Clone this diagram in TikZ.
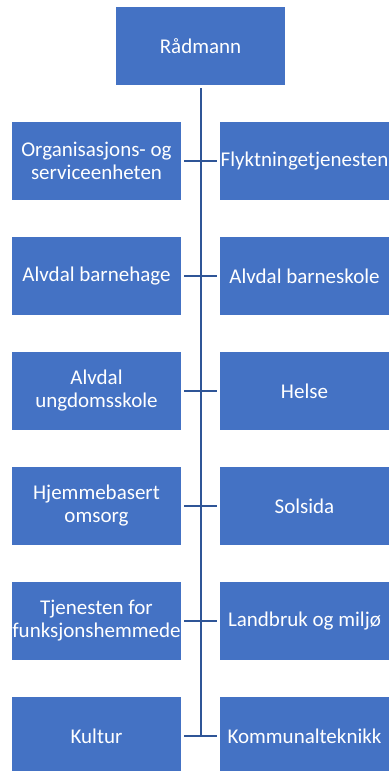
\documentclass[tikz,border=0pt]{standalone}
\usepackage{fontspec}
\setmainfont{Carlito}
\definecolor{boxblue}{HTML}{4472C4}
\definecolor{lineblue}{HTML}{2F5597}
\begin{document}
\begin{tikzpicture}[x=1pt,y=-1pt,
  unit/.style={fill=boxblue, text=white, minimum width=169pt, minimum height=78pt,
    inner sep=0pt, align=center, font=\fontsize{21}{23}\selectfont},
  conn/.style={draw=lineblue, line width=2pt}]
\useasboundingbox (0,0) rectangle (391,771);
\node[unit] (rad) at (200.5,46) {Rådmann};
\node[unit] (l1) at (96.5,161) {Organisasjons- og\\serviceenheten};
\node[unit] (r1) at (304.5,161) {Flyktningetjenesten};
\node[unit] (l2) at (96.5,276) {Alvdal barnehage};
\node[unit] (r2) at (304.5,276) {Alvdal barneskole};
\node[unit] (l3) at (96.5,391) {Alvdal\\ungdomsskole};
\node[unit] (r3) at (304.5,391) {Helse};
\node[unit] (l4) at (96.5,506) {Hjemmebasert\\omsorg};
\node[unit] (r4) at (304.5,506) {Solsida};
\node[unit] (l5) at (96.5,621) {Tjenesten for\\funksjonshemmede};
\node[unit] (r5) at (304.5,621) {Landbruk og miljø};
\node[unit] (l6) at (96.5,736) {Kultur};
\node[unit] (r6) at (304.5,736) {Kommunalteknikk};
\coordinate (end) at (200.5,736);
\draw[conn, shorten <=3pt] (rad.south) -- (end);
\foreach \i in {1,...,6}{
  \draw[conn, shorten <=3pt, shorten >=3pt] (l\i.east) -- (r\i.west);
}
\end{tikzpicture}
\end{document}
